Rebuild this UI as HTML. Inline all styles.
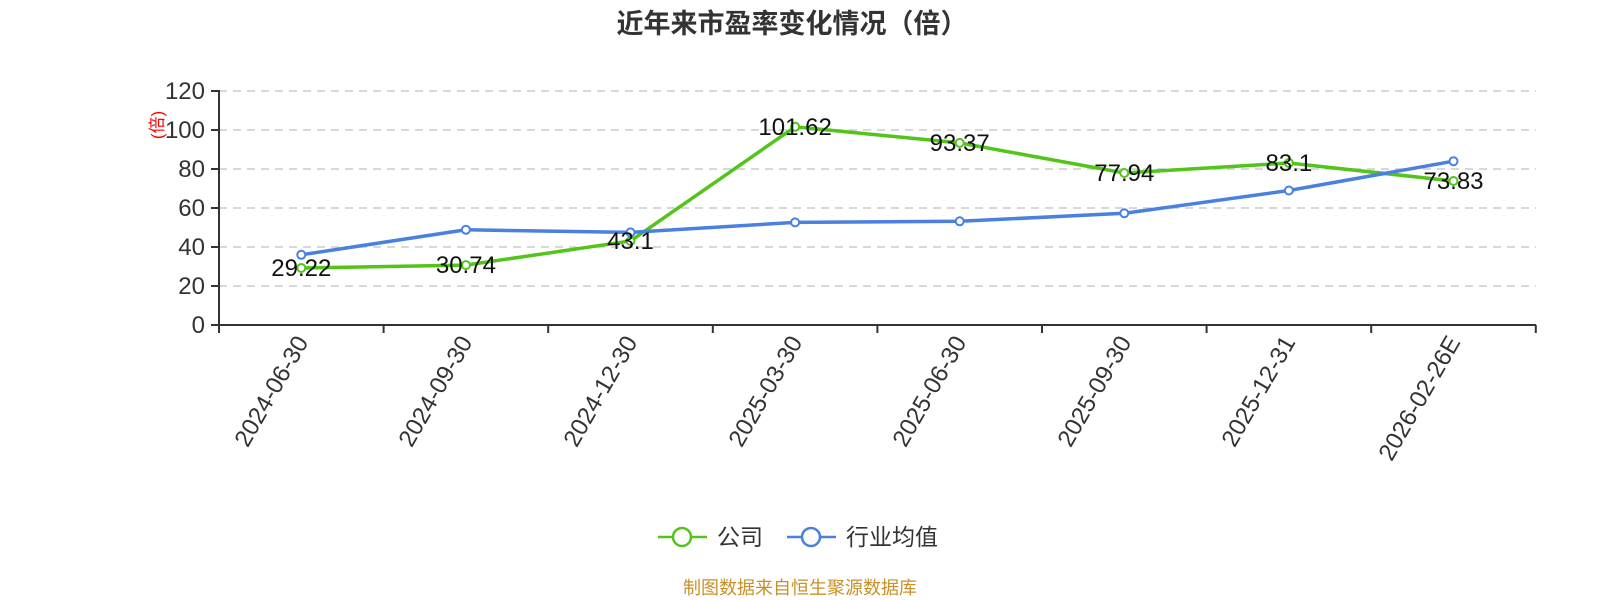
<!DOCTYPE html>
<html><head><meta charset="utf-8"><style>
body{margin:0;background:#fff;}
svg{display:block;font-family:"Liberation Sans","Noto Sans CJK SC",sans-serif;}
</style></head><body>
<svg width="1600" height="600" viewBox="0 0 1600 600">
<text x="792" y="33" text-anchor="middle" font-size="27" font-weight="bold" fill="#333">近年来市盈率变化情况（倍）</text>
<g stroke="#ccc" stroke-width="1.5" stroke-dasharray="8,6">
<line x1="219" y1="91" x2="1536" y2="91"/><line x1="219" y1="130" x2="1536" y2="130"/><line x1="219" y1="169" x2="1536" y2="169"/><line x1="219" y1="208" x2="1536" y2="208"/><line x1="219" y1="247" x2="1536" y2="247"/><line x1="219" y1="286" x2="1536" y2="286"/>
</g>
<g stroke="#333" stroke-width="2">
<line x1="219" y1="90" x2="219" y2="326"/><line x1="218" y1="325" x2="1536" y2="325"/>
<line x1="211" y1="91" x2="219" y2="91"/><line x1="211" y1="130" x2="219" y2="130"/><line x1="211" y1="169" x2="219" y2="169"/><line x1="211" y1="208" x2="219" y2="208"/><line x1="211" y1="247" x2="219" y2="247"/><line x1="211" y1="286" x2="219" y2="286"/><line x1="211" y1="325" x2="219" y2="325"/>
<line x1="219" y1="325" x2="219" y2="333"/><line x1="383.6" y1="325" x2="383.6" y2="333"/><line x1="548.2" y1="325" x2="548.2" y2="333"/><line x1="712.8" y1="325" x2="712.8" y2="333"/><line x1="877.4" y1="325" x2="877.4" y2="333"/><line x1="1042" y1="325" x2="1042" y2="333"/><line x1="1206.6" y1="325" x2="1206.6" y2="333"/><line x1="1371.2" y1="325" x2="1371.2" y2="333"/><line x1="1535.8" y1="325" x2="1535.8" y2="333"/>
</g>
<g font-size="24" fill="#333" text-anchor="end">
<text x="205" y="99">120</text><text x="205" y="138">100</text><text x="205" y="177">80</text><text x="205" y="216">60</text><text x="205" y="255">40</text><text x="205" y="294">20</text><text x="205" y="333">0</text>
</g>
<text transform="translate(163,125) rotate(-90)" font-size="17" fill="red" text-anchor="middle">(倍)</text>
<g font-size="24" fill="#333" text-anchor="end">
<text transform="translate(309,342) rotate(-60)">2024-06-30</text>
<text transform="translate(473,342) rotate(-60)">2024-09-30</text>
<text transform="translate(638,342) rotate(-60)">2024-12-30</text>
<text transform="translate(803,342) rotate(-60)">2025-03-30</text>
<text transform="translate(967,342) rotate(-60)">2025-06-30</text>
<text transform="translate(1132,342) rotate(-60)">2025-09-30</text>
<text transform="translate(1296,342) rotate(-60)">2025-12-31</text>
<text transform="translate(1461,342) rotate(-60)">2026-02-26E</text>
</g>
<polyline fill="none" stroke="#52c41a" stroke-width="3.5" points="301.3,268 465.9,265.1 630.5,241 795.1,126.8 959.7,142.9 1124.3,173 1288.9,163 1453.5,181"/>
<polyline fill="none" stroke="#4a80e0" stroke-width="3.5" points="301.3,254.8 465.9,229.8 630.5,232.4 795.1,222.4 959.7,221.3 1124.3,213.3 1288.9,190.5 1453.5,161.2"/>
<g fill="#fff" stroke="#52c41a" stroke-width="2">
<circle cx="301.3" cy="268" r="4"/><circle cx="465.9" cy="265.1" r="4"/><circle cx="630.5" cy="241" r="4"/><circle cx="795.1" cy="126.8" r="4"/><circle cx="959.7" cy="142.9" r="4"/><circle cx="1124.3" cy="173" r="4"/><circle cx="1288.9" cy="163" r="4"/><circle cx="1453.5" cy="181" r="4"/>
</g>
<g fill="#fff" stroke="#4a80e0" stroke-width="2">
<circle cx="301.3" cy="254.8" r="4"/><circle cx="465.9" cy="229.8" r="4"/><circle cx="630.5" cy="232.4" r="4"/><circle cx="795.1" cy="222.4" r="4"/><circle cx="959.7" cy="221.3" r="4"/><circle cx="1124.3" cy="213.3" r="4"/><circle cx="1288.9" cy="190.5" r="4"/><circle cx="1453.5" cy="161.2" r="4"/>
</g>
<g font-size="24" fill="#111" text-anchor="middle">
<text x="301.3" y="276">29.22</text><text x="465.9" y="273">30.74</text><text x="630.5" y="249">43.1</text><text x="795.1" y="135">101.62</text><text x="959.7" y="151">93.37</text><text x="1124.3" y="181">77.94</text><text x="1288.9" y="171">83.1</text><text x="1453.5" y="189">73.83</text>
</g>
<line x1="658" y1="537" x2="707" y2="537" stroke="#52c41a" stroke-width="2.5"/>
<circle cx="682" cy="537" r="9" fill="#fff" stroke="#52c41a" stroke-width="2.5"/>
<text x="717" y="545" font-size="23" fill="#333">公司</text>
<line x1="787" y1="537" x2="836" y2="537" stroke="#4a80e0" stroke-width="2.5"/>
<circle cx="811" cy="537" r="9" fill="#fff" stroke="#4a80e0" stroke-width="2.5"/>
<text x="846" y="545" font-size="23" fill="#333">行业均值</text>
<text x="800" y="594" font-size="18" fill="#c8902a" text-anchor="middle">制图数据来自恒生聚源数据库</text>
</svg>
</body></html>
